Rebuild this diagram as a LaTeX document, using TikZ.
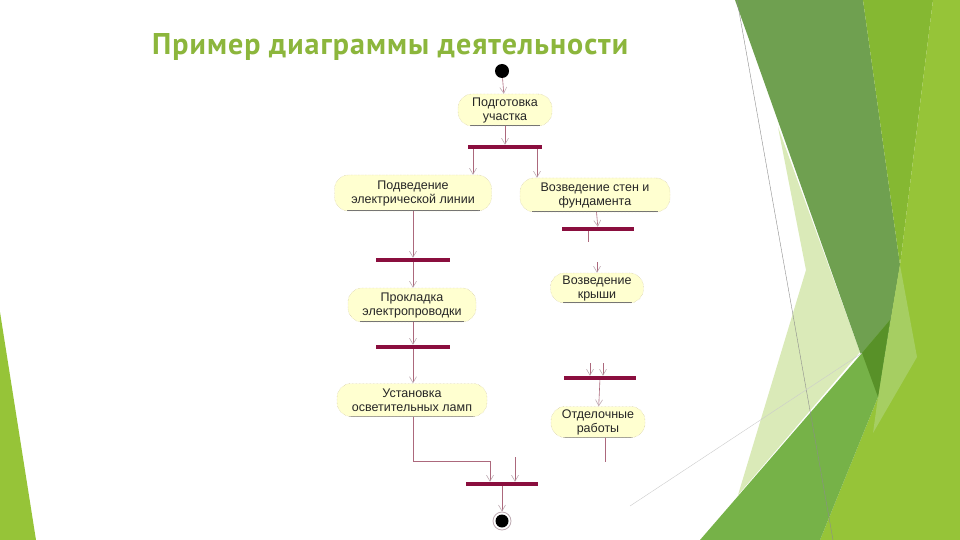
\documentclass[tikz,border=0pt]{standalone}
\usepackage{fontspec}
\setmainfont{Liberation Sans}
\newfontfamily\titlefont[LetterSpace=3.5]{PT Sans}
\usetikzlibrary{arrows.meta}
\usepackage{xcolor}

\definecolor{titlegreen}{RGB}{140,182,60}
\definecolor{barred}{RGB}{138,14,62}
\definecolor{flowline}{RGB}{172,104,124}
\definecolor{tipgray}{RGB}{190,170,178}
\definecolor{actfill}{RGB}{255,255,208}
\definecolor{actborder}{RGB}{196,184,150}
\definecolor{gdark}{RGB}{111,160,80}
\definecolor{gyellow}{RGB}{133,184,50}
\definecolor{glight}{RGB}{150,196,56}
\definecolor{gpale}{RGB}{218,234,184}
\definecolor{gmid}{RGB}{118,178,72}
\definecolor{gdeep}{RGB}{88,145,40}
\definecolor{gsoft}{RGB}{166,206,98}

\begin{document}
\begin{tikzpicture}[x=1pt,y=-1pt,
    action/.style={rectangle,rounded corners=14pt,draw=actborder,densely dotted,
      fill=actfill,align=center,inner sep=1pt,text=black!85,
      font=\fontsize{12.5}{14}\selectfont,
      path picture={\draw[solid,black!55,line width=0.7pt]
        ([xshift=12pt,yshift=0.4pt]path picture bounding box.south west) --
        ([xshift=-12pt,yshift=0.4pt]path picture bounding box.south east);}},
    syncbar/.style={rectangle,fill=barred,minimum width=74pt,minimum height=4pt,inner sep=0pt},
    startnode/.style={circle,fill=black,minimum size=14pt,inner sep=0pt},
    endnode/.style={circle,fill=white,draw=tipgray,line width=0.8pt,minimum size=18pt,inner sep=0pt},
    flow/.style={draw=flowline,line width=0.6pt,-{Straight Barb[length=6pt,width=7pt,color=tipgray]}},
    plain/.style={draw=flowline,line width=0.6pt}]

  % Background
  \useasboundingbox (0,0) rectangle (960,540);
  \fill[white] (0,0) rectangle (960,540);
  \fill[gpale] (778,127) -- (860,352) -- (738,495) -- (806,270) -- cycle;
  \fill[gdark] (735,0) -- (863,0) -- (900,265) -- (878,397) -- (860,352) -- cycle;
  \fill[gyellow] (863,0) -- (933,0) -- (900,265) -- cycle;
  \fill[glight] (933,0) -- (960,0) -- (960,540) -- (820,540) -- (878,397) -- (900,265) -- cycle;
  \fill[gsoft] (900,265) -- (917,357) -- (873,433) -- (878,397) -- cycle;
  \fill[gmid] (862,353) -- (890,320) -- (878,397) -- (820,540) -- (700,540) -- cycle;
  \fill[gdeep] (862,353) -- (890,320) -- (878,397) -- cycle;
  \fill[glight] (0,312) -- (36,540) -- (0,540) -- cycle;
  \draw[black!45,line width=0.4pt] (737,0) -- (833,540);
  \draw[black!20,line width=0.4pt] (630,506) -- (862,353);

  % Title
  \node[text=titlegreen,font=\titlefont\bfseries\fontsize{30}{32}\selectfont,anchor=base west,inner sep=0pt]
    (title) at (152,55) {Пример диаграммы деятельности};

  % Nodes
  \node[startnode] (start) at (502,71) {};
  \node[action,minimum width=94pt,minimum height=32pt] (a1) at (505,110) {Подготовка\\участка};
  \node[syncbar] (fork) at (505,147) {};
  \node[action,minimum width=157pt,minimum height=36pt] (a2) at (413,193) {Подведение\\электрической линии};
  \node[action,minimum width=150pt,minimum height=34pt] (a3) at (595,195) {Возведение стен и\\фундамента};
  \node[syncbar,minimum width=72pt] (bar4) at (598,229) {};
  \node[syncbar] (bar2) at (413,260) {};
  \node[action,minimum width=93pt,minimum height=30pt] (a6) at (597,288) {Возведение\\крыши};
  \node[action,minimum width=128pt,minimum height=34pt] (a4) at (412,305) {Прокладка\\электропроводки};
  \node[syncbar] (bar3) at (413,347) {};
  \node[syncbar,minimum width=72pt] (bar5) at (600,378) {};
  \node[action,minimum width=150pt,minimum height=33pt] (a5) at (412,400) {Установка\\осветительных ламп};
  \node[action,minimum width=94pt,minimum height=31pt] (a7) at (598,422) {Отделочные\\работы};
  \node[syncbar,minimum width=72pt] (join) at (502,484) {};
  \node[endnode] (end) at (502,521) {};
  \fill[black] (end) circle (6.5pt);

  \coordinate (s1) at (588,242);
  \coordinate (s2) at (597,262);
  \coordinate (s3) at (590,363);
  \coordinate (s4) at (603,363);
  \coordinate (s5) at (605,462);
  \coordinate (s6) at (413,461);
  \coordinate (s7) at (515,457);

  % Edges
  \draw[flow] (start) -- (a1);
  \draw[flow] (a1) -- (fork);
  \draw[flow] ([xshift=-32pt]fork.south) -- ([xshift=-32pt]fork.south |- a2.north);
  \draw[flow] ([xshift=32pt]fork.south) -- ([xshift=32pt]fork.south |- a3.north);
  \draw[flow] (a3) -- (bar4);
  \draw[plain] (bar4.south -| s1) -- (s1);
  \draw[flow] (s2) -- (a6);
  \draw[flow] (a2) -- (bar2);
  \draw[flow] (bar2) -- (a4.north -| bar2);
  \draw[flow] (a4.south -| bar3) -- (bar3);
  \draw[flow] (bar3) -- (a5.north -| bar3);
  \draw[flow] (s3) -- (s3 |- bar5.north);
  \draw[flow] (s4) -- (s4 |- bar5.north);
  \draw[flow] (bar5) -- (a7);
  \draw[plain] (a7.south -| s5) -- (s5);
  \draw[flow] (a5.south -| s6) -- (s6) -- (s6 -| 490,0) -- (490,0 |- join.north);
  \draw[flow] (s7) -- (s7 |- join.north);
  \draw[flow] (join) -- (end);
\end{tikzpicture}
\end{document}
